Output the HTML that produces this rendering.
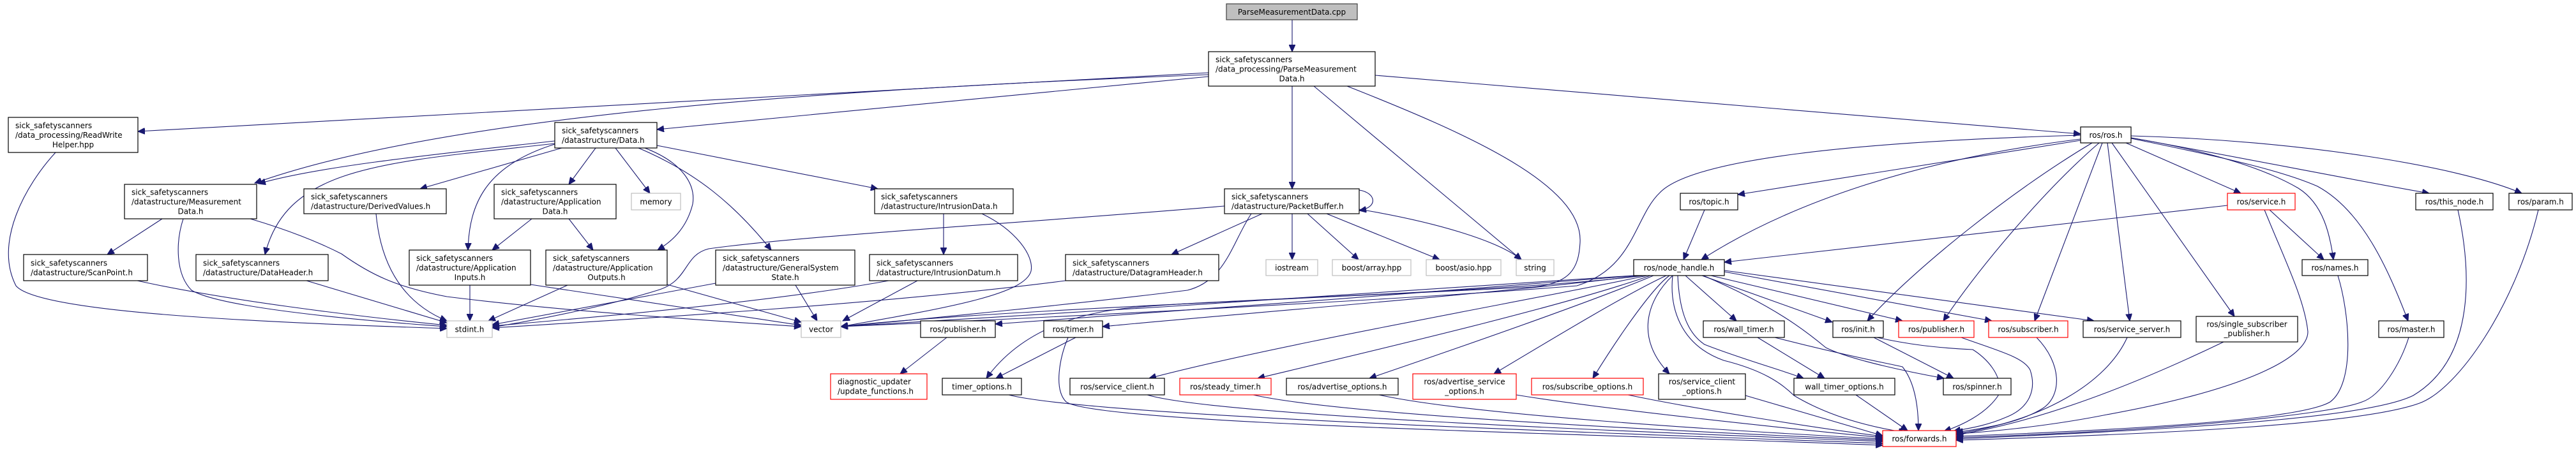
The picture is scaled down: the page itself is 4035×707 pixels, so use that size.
<!DOCTYPE html>
<html><head><meta charset="utf-8"><style>
html,body{margin:0;padding:0;background:#fff;}
svg{display:block;}
text{font-family:"DejaVu Sans","Liberation Sans",sans-serif;font-size:12px;fill:#000;}
.n{fill:#fff;stroke:#000;stroke-width:1.2;}
.g{fill:#fff;stroke:#bfbfbf;stroke-width:1.2;}
.r{fill:#fff;stroke:#ff0000;stroke-width:1.2;}
.e{fill:none;stroke:#191970;stroke-width:1.1;marker-end:url(#a);}
.c{text-anchor:middle;}
</style></head><body>
<svg width="4035" height="707" viewBox="0 0 4035 707" xmlns="http://www.w3.org/2000/svg">
<defs><marker id="a" markerUnits="userSpaceOnUse" markerWidth="12" markerHeight="10" refX="11" refY="5" orient="auto"><path d="M0,0 L11,5 L0,10 Z" fill="#191970" stroke="#191970"/></marker></defs>
<g>
<!-- edges -->
<path class="e" d="M2024,31 L2024,81"/>
<path class="e" d="M1893,114 L216,206"/>
<path class="e" d="M1893,117 C1300,140 700,180 399,287"/>
<path class="e" d="M1893,120 L1029,203"/>
<path class="e" d="M2024,135 L2024,296"/>
<path class="e" d="M2058,135 L2383,407"/>
<path class="e" d="M2110,135 C2300,210 2480,290 2475,380 C2473,420 2460,445 2400,450 C2000,470 1500,490 1317,512"/>
<path class="e" d="M2154,118 L3259,210"/>
<path class="e" d="M869,221 C700,240 500,260 405,288"/>
<path class="e" d="M869,225 C600,255 450,260 415,399"/>
<path class="e" d="M880,232 L658,296"/>
<path class="e" d="M869,226 C760,260 735,320 733,392"/>
<path class="e" d="M933,232 L891,289"/>
<path class="e" d="M964,232 L1018,303"/>
<path class="e" d="M1010,232 C1070,255 1090,290 1085,320 C1075,360 1050,380 1030,392"/>
<path class="e" d="M1000,232 C1090,270 1150,320 1208,392"/>
<path class="e" d="M1029,228 L1375,296"/>
<path class="e" d="M254,343 L168,399"/>
<path class="e" d="M287,343 C275,380 275,430 300,455 C350,485 600,505 700,512"/>
<path class="e" d="M392,343 C450,360 500,380 535,398 C580,430 620,450 700,465 C900,490 1150,505 1255,512"/>
<path class="e" d="M87,239 C40,290 -10,380 25,448 C60,490 400,505 700,515"/>
<path class="e" d="M215,440 C350,470 550,495 700,510"/>
<path class="e" d="M480,440 L700,506"/>
<path class="e" d="M589,335 C595,400 620,470 700,503"/>
<path class="e" d="M833,343 L771,392"/>
<path class="e" d="M891,343 L929,392"/>
<path class="e" d="M736,447 L736,503"/>
<path class="e" d="M831,446 L1255,510"/>
<path class="e" d="M889,447 L765,503"/>
<path class="e" d="M1045,446 L1255,505"/>
<path class="e" d="M1121,444 L771,509"/>
<path class="e" d="M1246,447 L1280,503"/>
<path class="e" d="M1478,335 L1478,399"/>
<path class="e" d="M1538,335 C1590,360 1620,400 1615,425 C1605,460 1500,480 1317,512"/>
<path class="e" d="M1392,440 C1200,475 900,500 771,511"/>
<path class="e" d="M1437,440 L1320,503"/>
<path class="e" d="M1669,440 C1400,475 1000,500 771,514"/>
<path class="e" d="M1918,323 C1600,350 1250,370 1110,390 C1070,400 1080,440 1030,455 C950,480 850,500 771,513"/>
<path class="e" d="M1977,335 L1835,399"/>
<path class="e" d="M1960,335 C1930,380 1920,440 1860,455 C1700,475 1450,500 1317,512"/>
<path class="e" d="M2024,335 L2024,407"/>
<path class="e" d="M2048,335 L2128,407"/>
<path class="e" d="M2078,335 L2255,407"/>
<path class="e" d="M2129,328 C2260,350 2350,380 2383,407"/>
<path class="e" d="M2129,298 C2155,302 2160,325 2129,330"/>
<!-- ros.h -->
<path class="e" d="M3259,218 C3000,250 2800,320 2665,407"/>
<path class="e" d="M3259,220 L2722,305"/>
<path class="e" d="M3259,212 C2900,222 2650,250 2600,302 C2560,340 2560,420 2470,448 C2200,470 1600,500 1317,512"/>
<path class="e" d="M3277,224 C3150,300 3000,420 2925,503"/>
<path class="e" d="M3288,224 C3200,300 3100,420 3044,503"/>
<path class="e" d="M3293,224 L3187,503"/>
<path class="e" d="M3301,224 L3336,503"/>
<path class="e" d="M3308,224 L3500,496"/>
<path class="e" d="M3330,224 L3510,303"/>
<path class="e" d="M3338,216 C3450,235 3540,260 3600,295 C3640,320 3650,370 3655,407"/>
<path class="e" d="M3338,217 C3500,250 3580,270 3630,292 C3700,330 3740,420 3772,503"/>
<path class="e" d="M3338,216 C3500,245 3700,285 3805,303"/>
<path class="e" d="M3338,213 C3600,220 3850,260 3950,303"/>
<path class="e" d="M2670,329 L2637,407"/>
<path class="e" d="M3489,322 L2701,411"/>
<path class="e" d="M3555,329 L3640,407"/>
<path class="e" d="M3547,329 C3580,410 3610,470 3615,520 C3615,560 3520,610 3300,650 C3200,670 3100,678 3064,680"/>
<path class="e" d="M3662,432 C3680,490 3690,600 3650,630 C3600,660 3300,675 3064,684"/>
<path class="e" d="M3773,529 C3760,570 3730,620 3700,630 C3650,650 3400,675 3064,686"/>
<path class="e" d="M3850,329 C3870,420 3880,560 3780,620 C3720,650 3500,670 3064,688"/>
<path class="e" d="M3976,329 C3940,480 3850,610 3790,632 C3700,665 3400,680 3064,690"/>
<path class="e" d="M3483,536 C3350,600 3200,660 3064,682"/>
<path class="e" d="M3332,529 C3300,600 3200,660 3064,680"/>
<path class="e" d="M3190,529 C3230,570 3230,620 3200,640 C3160,665 3100,672 3064,678"/>
<path class="e" d="M3072,529 C3130,550 3170,560 3180,580 C3190,610 3180,640 3140,655 C3110,668 3080,672 3060,676"/>
<path class="e" d="M2940,529 C2990,540 3030,545 3090,548 C3110,560 3140,590 3130,620 C3110,650 3070,668 3045,676"/>
<path class="e" d="M2935,529 L3060,593"/>
<path class="e" d="M2753,529 L2858,593"/>
<path class="e" d="M2780,529 C2900,560 2960,570 2980,575 C3000,600 3005,640 3005,675"/>
<path class="e" d="M2907,619 L2988,675"/>
<path class="e" d="M2734,620 L2949,683"/>
<path class="e" d="M1685,529 L1560,593"/>
<path class="e" d="M1673,529 C1660,560 1650,610 1670,630 C1720,665 2500,680 2949,698"/>
<path class="e" d="M1580,619 C1700,650 2400,675 2949,695"/>
<path class="e" d="M1797,619 C1900,650 2500,675 2949,692"/>
<path class="e" d="M1963,619 C2100,650 2600,675 2949,690"/>
<path class="e" d="M2160,619 C2300,650 2700,675 2949,688"/>
<path class="e" d="M2375,619 C2500,640 2800,672 2949,686"/>
<path class="e" d="M2550,619 C2650,640 2850,672 2949,684"/>
<path class="e" d="M1483,529 L1410,586"/>
<!-- node_handle -->
<path class="e" d="M2559,432 C2300,450 1700,490 1317,512"/>
<path class="e" d="M2565,432 C2300,455 1800,490 1559,508"/>
<path class="e" d="M2570,432 C2350,460 1900,495 1727,512"/>
<path class="e" d="M2575,432 C2350,460 1850,470 1750,485 C1640,500 1580,545 1545,593"/>
<path class="e" d="M2580,432 C2400,470 2000,540 1800,593"/>
<path class="e" d="M2585,432 C2450,480 2150,550 1970,593"/>
<path class="e" d="M2590,432 C2500,470 2300,540 2145,593"/>
<path class="e" d="M2610,432 C2550,460 2450,520 2340,586"/>
<path class="e" d="M2615,432 C2590,450 2540,520 2495,593"/>
<path class="e" d="M2620,432 C2580,470 2560,530 2615,586"/>
<path class="e" d="M2640,432 L2720,503"/>
<path class="e" d="M2628,432 C2630,480 2640,520 2670,540 C2720,560 2790,580 2825,593"/>
<path class="e" d="M2666,432 L2870,505"/>
<path class="e" d="M2680,432 L2980,503"/>
<path class="e" d="M2701,426 L3120,503"/>
<path class="e" d="M2701,424 L3280,503"/>
<path class="e" d="M2668,432 C2780,480 2830,520 2860,545 C2900,565 3000,585 3045,593"/>
<path class="e" d="M2620,432 C2615,480 2630,540 2700,565 C2760,580 2790,600 2810,620 C2860,650 2920,668 2985,678"/>
</g>
<g>
<!-- nodes -->
<rect x="1921" y="6" width="205" height="25" fill="#bfbfbf" stroke="#404040" stroke-width="1.2"/>
<text x="2023.5" y="23" class="c">ParseMeasurementData.cpp</text>

<rect class="n" x="1893" y="81" width="261" height="54"/>
<text x="1904" y="97.5">sick_safetyscanners</text><text x="1904" y="112.5">/data_processing/ParseMeasurement</text><text x="2023.5" y="127.5" class="c">Data.h</text>

<rect class="n" x="13" y="184" width="203" height="55"/>
<text x="24" y="201">sick_safetyscanners</text><text x="24" y="216">/data_processing/ReadWrite</text><text x="114.5" y="231" class="c">Helper.hpp</text>

<rect class="n" x="195" y="289" width="207" height="54"/>
<text x="206" y="305.5">sick_safetyscanners</text><text x="206" y="320.5">/datastructure/Measurement</text><text x="298.5" y="335.5" class="c">Data.h</text>

<rect class="n" x="869" y="192" width="160" height="40"/>
<text x="880" y="209">sick_safetyscanners</text><text x="880" y="224">/datastructure/Data.h</text>

<rect class="n" x="476" y="296" width="223" height="39"/>
<text x="487" y="312.5">sick_safetyscanners</text><text x="487" y="327.5">/datastructure/DerivedValues.h</text>

<rect class="n" x="37" y="399" width="194" height="41"/>
<text x="48" y="416.5">sick_safetyscanners</text><text x="48" y="431.5">/datastructure/ScanPoint.h</text>

<rect class="n" x="307" y="399" width="207" height="41"/>
<text x="318" y="416.5">sick_safetyscanners</text><text x="318" y="431.5">/datastructure/DataHeader.h</text>

<rect class="n" x="1370" y="296" width="217" height="39"/>
<text x="1380" y="312.5">sick_safetyscanners</text><text x="1380" y="327.5">/datastructure/IntrusionData.h</text>

<rect class="n" x="1362" y="399" width="232" height="41"/>
<text x="1373" y="416.5">sick_safetyscanners</text><text x="1373" y="431.5">/datastructure/IntrusionDatum.h</text>

<rect class="n" x="1669" y="399" width="240" height="41"/>
<text x="1680" y="416.5">sick_safetyscanners</text><text x="1680" y="431.5">/datastructure/DatagramHeader.h</text>

<rect class="n" x="1918" y="296" width="211" height="39"/>
<text x="1929" y="312.5">sick_safetyscanners</text><text x="1929" y="327.5">/datastructure/PacketBuffer.h</text>

<rect class="n" x="774" y="289" width="191" height="54"/>
<text x="785" y="305.5">sick_safetyscanners</text><text x="785" y="320.5">/datastructure/Application</text><text x="869.5" y="335.5" class="c">Data.h</text>

<rect class="n" x="641" y="392" width="190" height="55"/>
<text x="652" y="409">sick_safetyscanners</text><text x="652" y="424">/datastructure/Application</text><text x="736" y="439" class="c">Inputs.h</text>

<rect class="n" x="855" y="392" width="190" height="55"/>
<text x="866" y="409">sick_safetyscanners</text><text x="866" y="424">/datastructure/Application</text><text x="950" y="439" class="c">Outputs.h</text>

<rect class="n" x="1121" y="392" width="218" height="55"/>
<text x="1132" y="409">sick_safetyscanners</text><text x="1132" y="424">/datastructure/GeneralSystem</text><text x="1230" y="439" class="c">State.h</text>

<rect class="g" x="989" y="303" width="77" height="26"/><text x="1027.5" y="320.5" class="c">memory</text>
<rect class="g" x="700" y="503" width="71" height="26"/><text x="735.5" y="520.5" class="c">stdint.h</text>
<rect class="g" x="1255" y="503" width="62" height="26"/><text x="1286" y="520.5" class="c">vector</text>
<rect class="g" x="1983" y="407" width="81" height="25"/><text x="2023.5" y="424" class="c">iostream</text>
<rect class="g" x="2087" y="407" width="123" height="25"/><text x="2148.5" y="424" class="c">boost/array.hpp</text>
<rect class="g" x="2234" y="407" width="117" height="25"/><text x="2292.5" y="424" class="c">boost/asio.hpp</text>
<rect class="g" x="2375" y="407" width="59" height="25"/><text x="2404.5" y="424" class="c">string</text>

<rect class="n" x="3259" y="199" width="79" height="25"/><text x="3298.5" y="216" class="c">ros/ros.h</text>
<rect class="n" x="2632" y="303" width="90" height="26"/><text x="2677" y="320.5" class="c">ros/topic.h</text>
<rect class="r" x="3489" y="303" width="106" height="26"/><text x="3542" y="320.5" class="c">ros/service.h</text>
<rect class="n" x="3784" y="303" width="121" height="26"/><text x="3844.5" y="320.5" class="c">ros/this_node.h</text>
<rect class="n" x="3930" y="303" width="99" height="26"/><text x="3979.5" y="320.5" class="c">ros/param.h</text>
<rect class="n" x="2559" y="407" width="142" height="25"/><text x="2630" y="424" class="c">ros/node_handle.h</text>
<rect class="n" x="3606" y="407" width="103" height="25"/><text x="3657.5" y="424" class="c">ros/names.h</text>
<rect class="n" x="1442" y="503" width="117" height="26"/><text x="1500.5" y="520.5" class="c">ros/publisher.h</text>
<rect class="n" x="1635" y="503" width="92" height="26"/><text x="1681" y="520.5" class="c">ros/timer.h</text>
<rect class="n" x="2668" y="503" width="127" height="26"/><text x="2731.5" y="520.5" class="c">ros/wall_timer.h</text>
<rect class="n" x="2871" y="503" width="79" height="26"/><text x="2910.5" y="520.5" class="c">ros/init.h</text>
<rect class="r" x="2974" y="503" width="118" height="26"/><text x="3033" y="520.5" class="c">ros/publisher.h</text>
<rect class="r" x="3115" y="503" width="124" height="26"/><text x="3177" y="520.5" class="c">ros/subscriber.h</text>
<rect class="n" x="3263" y="503" width="153" height="26"/><text x="3339.5" y="520.5" class="c">ros/service_server.h</text>
<rect class="n" x="3440" y="496" width="159" height="40"/><text x="3519.5" y="512.5" class="c">ros/single_subscriber</text><text x="3519.5" y="527" class="c">_publisher.h</text>
<rect class="n" x="3726" y="503" width="102" height="26"/><text x="3777" y="520.5" class="c">ros/master.h</text>

<rect class="r" x="1301" y="586" width="151" height="40"/><text x="1312" y="602.5">diagnostic_updater</text><text x="1312" y="617.5">/update_functions.h</text>
<rect class="n" x="1476" y="593" width="124" height="26"/><text x="1538" y="610.5" class="c">timer_options.h</text>
<rect class="n" x="1676" y="593" width="148" height="26"/><text x="1750" y="610.5" class="c">ros/service_client.h</text>
<rect class="r" x="1848" y="593" width="143" height="26"/><text x="1919.5" y="610.5" class="c">ros/steady_timer.h</text>
<rect class="n" x="2015" y="593" width="175" height="26"/><text x="2102.5" y="610.5" class="c">ros/advertise_options.h</text>
<rect class="r" x="2213" y="586" width="162" height="40"/><text x="2294" y="602.5" class="c">ros/advertise_service</text><text x="2294" y="617.5" class="c">_options.h</text>
<rect class="r" x="2399" y="593" width="175" height="26"/><text x="2486.5" y="610.5" class="c">ros/subscribe_options.h</text>
<rect class="n" x="2598" y="586" width="136" height="40"/><text x="2666" y="602.5" class="c">ros/service_client</text><text x="2666" y="617.5" class="c">_options.h</text>
<rect class="n" x="2810" y="593" width="158" height="26"/><text x="2889" y="610.5" class="c">wall_timer_options.h</text>
<rect class="n" x="3044" y="593" width="106" height="26"/><text x="3097" y="610.5" class="c">ros/spinner.h</text>
<rect class="r" x="2949" y="675" width="115" height="25"/><text x="3006.5" y="692" class="c">ros/forwards.h</text>
</g>
</svg>
</body></html>
